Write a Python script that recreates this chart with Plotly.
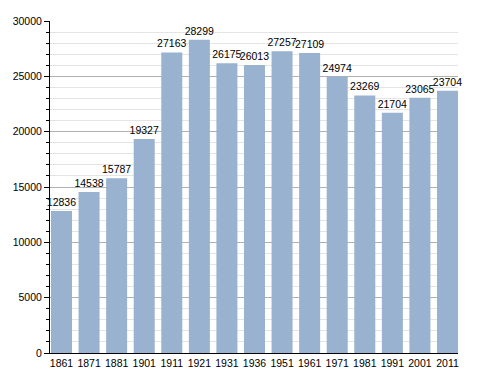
import plotly.graph_objects as go

years = ["1861", "1871", "1881", "1901", "1911", "1921", "1931", "1936", "1951", "1961", "1971", "1981", "1991", "2001", "2011"]
population = [12836, 14538, 15787, 19327, 27163, 28299, 26175, 26013, 27257, 27109, 24974, 23269, 21704, 23065, 23704]

fig = go.Figure(go.Bar(
    x=years, y=population,
    marker=dict(color="rgb(152,178,207)", line=dict(width=0)),
    text=[str(v) for v in population], textposition="outside",
    textfont=dict(family="Liberation Sans, Arial", size=10.5, color="black"),
    constraintext="none",
    cliponaxis=False,
))
# page body has an 8px default margin, so the figure is offset by 8px
fig.update_layout(
    width=480, height=365,
    margin=dict(l=42, r=30, t=13, b=20),
    paper_bgcolor="white", plot_bgcolor="white",
    bargap=0.238, showlegend=False,
    uniformtext=dict(minsize=10, mode="show"),
    font=dict(family="Liberation Sans, Arial", size=10.5, color="black"),
)
fig.update_xaxes(type="category", range=[-0.417, 14.381], automargin=False,
                 showline=True, linecolor="black", linewidth=1,
                 ticks="", tickfont=dict(size=10.5))
fig.update_yaxes(range=[0, 30000], dtick=5000, tickformat="d", automargin=False,
                 showline=True, linecolor="black", linewidth=1,
                 ticks="outside", ticklen=5, tickcolor="black",
                 showgrid=True, gridcolor="#b0b0b0", gridwidth=1, zeroline=False,
                 minor=dict(dtick=1000, showgrid=True, gridcolor="#e4e4e4", ticks="outside", ticklen=3, tickcolor="black"),
                 tickfont=dict(size=10.5))
fig.write_html("out.html")
